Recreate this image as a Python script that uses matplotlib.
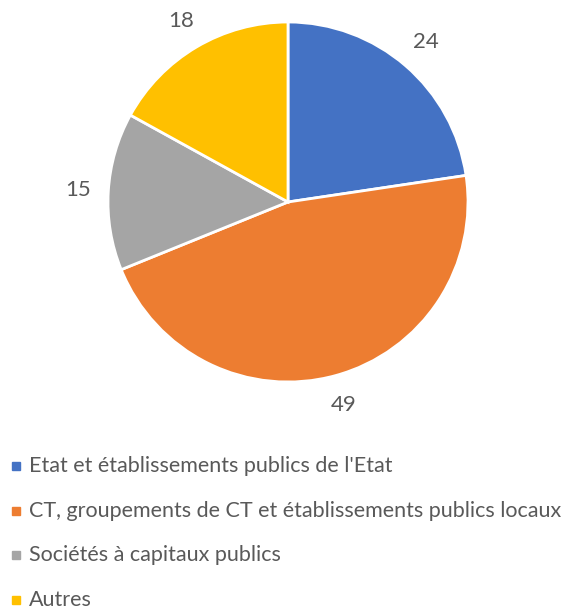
import matplotlib.pyplot as plt
from matplotlib.lines import Line2D

labels = ["Etat et établissements publics de l'Etat",
          "CT, groupements de CT et établissements publics locaux",
          "Sociétés à capitaux publics",
          "Autres"]
values = [24, 49, 15, 18]
colors = ['#4472C4', '#ED7D31', '#A5A5A5', '#FFC000']

plt.rcParams['font.family'] = ['Lato', 'DejaVu Sans']
txt_color = '#595959'

W, H = 579, 609
fig = plt.figure(figsize=(W / 100, H / 100), dpi=100)

# pie area: centre (288, 202) px, radius 180 px
cx, cy, r = 288, 202, 180
ax = fig.add_axes([(cx - r) / W, (H - cy - r) / H, 2 * r / W, 2 * r / H])
wedges, texts = ax.pie(values, colors=colors, startangle=90, counterclock=False,
                       labels=[str(v) for v in values], labeldistance=1.17,
                       wedgeprops=dict(edgecolor='white', linewidth=2),
                       textprops=dict(fontsize=16, color=txt_color))
for t in texts:
    t.set_horizontalalignment('center')
    t.set_verticalalignment('center')
ax.set_xlim(-1, 1)
ax.set_ylim(-1, 1)
ax.set_aspect('equal')
ax.axis('off')

# legend
ys = [466, 511, 555, 600]
for lab, col, y in zip(labels, colors, ys):
    fig.add_artist(Line2D([16 / W], [1 - y / H], marker='s', markersize=6,
                          color=col, linestyle='none', transform=fig.transFigure))
    fig.text(29 / W, 1 - y / H, lab, fontsize=15.5, color=txt_color,
             ha='left', va='center')

fig.savefig('out.png', dpi=100)
